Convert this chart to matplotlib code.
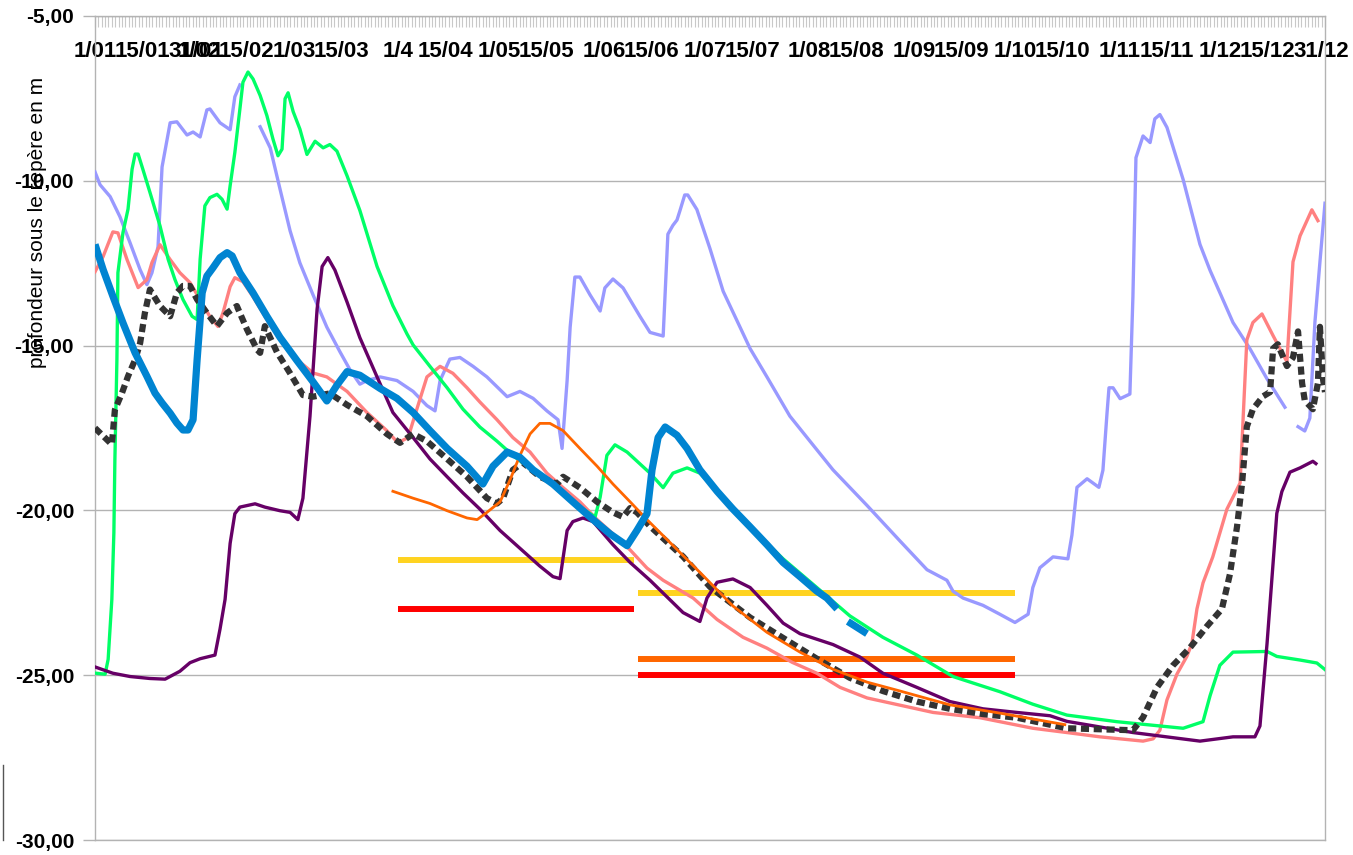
import numpy as np
import matplotlib
matplotlib.use("Agg")
import matplotlib.pyplot as plt
from matplotlib.lines import Line2D
from matplotlib.ticker import FuncFormatter

plt.rcParams['font.family'] = ['Liberation Sans', 'DejaVu Sans']

nan = np.nan

# x axis: day of year, labels placed on their date
tick_days = [1, 15, 31, 32, 46, 60, 74, 91, 105, 121, 135, 152, 166, 182, 196,
             213, 227, 244, 258, 274, 288, 305, 319, 335, 349, 365]
tick_labels = ["1/01", "15/01", "31/01", "1/02", "15/02", "1/03", "15/03", "1/4",
               "15/04", "1/05", "15/05", "1/06", "15/06", "1/07", "15/07", "1/08",
               "15/08", "1/09", "15/09", "1/10", "15/10", "1/11", "15/11", "1/12",
               "15/12", "31/12"]

# (day, depth in m), nan = gap
lavender = [(1, -9.73), (2.5, -10.12), (5.5, -10.48), (8.4, -11.09), (11.4, -11.88),
            (14.4, -12.70), (16.4, -13.15), (17.9, -12.79), (19.7, -12.0), (20.9, -9.58),
            (23.3, -8.24), (25.3, -8.21), (28.3, -8.61), (30.1, -8.52), (32.2, -8.67),
            (34.2, -7.85), (35.1, -7.82), (38.1, -8.24), (41.1, -8.45), (42.5, -7.45),
            (44, -7.09), (nan, nan),
            (50, -8.36), (53, -9.0), (55.9, -10.25), (58.9, -11.52), (61.8, -12.49),
            (65.7, -13.46), (69.8, -14.44), (73.7, -15.19), (76.7, -15.74), (79.6, -16.17),
            (81.7, -16.06), (85.6, -15.95), (90.6, -16.06), (95.4, -16.39), (99.5, -16.82),
            (101.9, -16.98), (103.4, -16.06), (106.3, -15.41), (109.3, -15.36),
            (113.2, -15.63), (117.3, -15.95), (123.3, -16.55), (127.1, -16.39),
            (131, -16.6), (135.1, -16.98), (138.4, -17.25), (139.6, -18.12),
            (141.1, -16.06), (142, -14.44), (143.4, -12.92), (144.9, -12.92),
            (147.9, -13.46), (150.9, -13.95), (152.3, -13.25), (154.7, -12.98),
            (157.7, -13.25), (162.7, -14.11), (165.7, -14.6), (169.6, -14.71),
            (171, -11.62), (172.5, -11.35), (173.7, -11.19), (174.6, -10.9), (176, -10.43),
            (176.9, -10.43), (179.6, -10.87), (183.5, -12.06), (187.4, -13.35),
            (195.4, -15.09), (200.4, -15.95), (207.2, -17.14), (212.3, -17.79),
            (220, -18.77), (230.1, -19.85), (239.9, -20.93), (247.9, -21.8),
            (253.8, -22.12), (255.6, -22.45), (258.6, -22.66), (264.5, -22.88),
            (269.5, -23.15), (274, -23.4), (277.9, -23.15), (279.3, -22.34),
            (281.4, -21.74), (285.3, -21.41), (289.7, -21.47), (290.9, -20.75),
            (292.4, -19.3), (295.4, -19.04), (298.9, -19.3), (300.1, -18.78),
            (301.3, -17.07), (301.9, -16.28), (303.1, -16.28), (305.2, -16.61),
            (308.1, -16.47), (309, -13.51), (309.9, -9.3), (312, -8.64), (314.1, -8.84),
            (315.5, -8.12), (317, -7.99), (319.1, -8.38), (323.9, -9.96), (328.9, -11.93),
            (331.9, -12.72), (338.7, -14.3), (343.7, -15.09), (348.8, -16.01),
            (354.1, -16.87), (nan, nan),
            (358, -17.46), (360, -17.59), (361.5, -17.2), (363, -14.3), (364.5, -12.46),
            (366, -10.68)]

salmon = [(1, -12.76), (3.4, -12.3), (6.3, -11.55), (7.8, -11.58), (10.5, -12.39),
          (13.8, -13.24), (16.4, -13.0), (17.9, -12.48), (20.3, -11.94), (23.3, -12.39),
          (26.2, -12.79), (29.2, -13.09), (32.2, -13.61), (35.1, -14.12), (37.5, -14.42),
          (39, -14.0), (41.1, -13.21), (42.5, -12.94), (44.9, -13.06), (47.9, -13.52),
          (52, -14.21), (55.9, -14.82), (60.9, -15.42), (65.7, -15.83), (69.8, -15.95),
          (75.8, -16.39), (81.7, -17.03), (87.6, -17.58), (90.9, -17.95), (93.9, -17.79),
          (96.5, -16.93), (99.5, -15.95), (103.4, -15.63), (107.2, -15.84),
          (111.4, -16.28), (115.2, -16.71), (120.3, -17.25), (125, -17.79),
          (130.1, -18.23), (135.1, -18.87), (139.9, -19.31), (144.9, -19.74),
          (150, -20.28), (154.7, -20.71), (159.8, -21.2), (164.8, -21.75),
          (169.6, -22.12), (178.5, -22.66), (185.6, -23.31), (193.3, -23.85),
          (200.4, -24.18), (207.9, -24.61), (215.2, -24.94), (222.1, -25.37),
          (230.1, -25.69), (239.9, -25.91), (249.7, -26.13), (263.6, -26.29),
          (269.5, -26.41), (279.3, -26.61), (289.4, -26.74), (299.2, -26.87),
          (312, -27.0), (315, -26.93), (317, -26.67), (319.1, -25.75), (322.1, -24.96),
          (325, -24.43), (326.5, -24.04), (328, -22.99), (329.8, -22.2), (332.7, -21.41),
          (336.9, -19.96), (340.8, -19.17), (342.8, -14.83), (344.6, -14.3),
          (347.3, -14.04), (350.6, -14.7), (354.7, -15.49), (356.5, -12.46),
          (358.6, -11.67), (362.1, -10.88), (363.9, -11.21)]

green = [(1.3, -24.94), (4, -24.97), (4.9, -24.52), (6, -22.7), (6.6, -20.68),
         (6.9, -18.47), (7.5, -15.43), (7.8, -12.79), (9.3, -11.57), (10.8, -10.86),
         (12, -9.65), (12.9, -9.19), (13.8, -9.19), (15.2, -9.65), (17.3, -10.35),
         (20.3, -11.37), (22.7, -12.38), (24.7, -12.99), (27.1, -13.6), (29.8, -14.11),
         (31.3, -14.21), (32.2, -12.38), (33.6, -10.76), (35.1, -10.51), (37.2, -10.41),
         (38.7, -10.56), (40.2, -10.86), (41.1, -10.15), (42.5, -9.14), (44, -7.82),
         (44.9, -7.01), (46.4, -6.7), (47.9, -6.91), (50, -7.41), (52, -8.02),
         (53.8, -8.73), (55.3, -9.24), (56.5, -9.04), (57.4, -7.51), (58.3, -7.33),
         (59.8, -7.9), (61.8, -8.43), (63.9, -9.2), (66.3, -8.8), (68.7, -9.0),
         (70.7, -8.9), (72.8, -9.1), (75.8, -9.85), (79.6, -10.9), (84.7, -12.6),
         (89.4, -13.79), (93.6, -14.65), (95.4, -14.98), (100.4, -15.63),
         (105.5, -16.28), (110.2, -16.93), (115.2, -17.47), (120.3, -17.9),
         (125, -18.33), (129.2, -18.66), (135.1, -19.1), (142, -19.7), (149.4, -20.2),
         (150.9, -19.6), (152.9, -18.33), (155.3, -18.01), (158.9, -18.23),
         (165.7, -18.87), (169.6, -19.31), (172.5, -18.87), (176.7, -18.71),
         (180.5, -18.87), (185.6, -19.42), (195.4, -20.5), (205.2, -21.47),
         (215.2, -22.34), (225, -23.2), (234.8, -23.85), (244.9, -24.39),
         (255.6, -25.04), (269.5, -25.5), (279.3, -25.88), (289.4, -26.21),
         (304.2, -26.41), (323.9, -26.61), (329.8, -26.41), (331.9, -25.62),
         (334.8, -24.7), (338.7, -24.3), (348.8, -24.28), (351.7, -24.43),
         (358.6, -24.54), (363.6, -24.63), (366, -24.83)]

purple = [(1.3, -24.76), (6.3, -24.94), (11.4, -25.04), (17.3, -25.1), (21.8, -25.12),
          (26.2, -24.88), (29.2, -24.62), (32.2, -24.5), (36.6, -24.39), (38.1, -23.6),
          (39.6, -22.7), (41.1, -21.0), (42.5, -20.1), (44, -19.9), (48.5, -19.8),
          (51.4, -19.9), (55.9, -20.01), (58.9, -20.06), (61.2, -20.28), (62.7, -19.63),
          (64.8, -17.14), (66.9, -13.9), (68.4, -12.6), (70.1, -12.33), (72.2, -12.71),
          (75.8, -13.68), (79.6, -14.76), (84.7, -15.95), (89.4, -17.03), (95.4, -17.79),
          (100.4, -18.44), (105.5, -18.98), (110.2, -19.47), (115.2, -19.96),
          (121.2, -20.61), (127.1, -21.15), (133, -21.69), (136.9, -22.01),
          (139, -22.07), (141.1, -20.61), (142.8, -20.34), (145.8, -20.23),
          (148.8, -20.34), (154.7, -21.04), (159.8, -21.58), (165.7, -22.12),
          (175.5, -23.1), (180.5, -23.37), (182.6, -22.66), (185.6, -22.18),
          (190.3, -22.08), (195.4, -22.34), (200.4, -22.88), (205.2, -23.42),
          (210.2, -23.74), (220, -24.07), (228, -24.45), (234.8, -24.94),
          (244.9, -25.37), (254.7, -25.8), (264.5, -26.02), (274.6, -26.13),
          (284.4, -26.23), (289.4, -26.4), (309, -26.74), (328.9, -27.0),
          (338.7, -26.87), (345.2, -26.87), (346.7, -26.54), (348.8, -24.04),
          (351.7, -20.09), (353.2, -19.43), (355.6, -18.84), (358.6, -18.71),
          (362.4, -18.51), (363.3, -18.58)]

blue = [(1, -11.93), (3.4, -12.69), (6.3, -13.5), (9.3, -14.31), (12.9, -15.22),
        (16.4, -15.93), (18.8, -16.44), (20.9, -16.74), (23.3, -17.05), (25.3, -17.35),
        (27.1, -17.56), (28.6, -17.56), (30.1, -17.25), (31.3, -15.43), (32.8, -13.4),
        (34.2, -12.89), (36, -12.64), (38.1, -12.33), (40.2, -12.18), (41.7, -12.28),
        (44, -12.79), (47.9, -13.4), (52, -14.11), (55.9, -14.75), (60.9, -15.45),
        (65.7, -16.1), (69.8, -16.68), (72.8, -16.2), (75.8, -15.79), (79.6, -15.9),
        (85.6, -16.3), (90.6, -16.6), (95.4, -17.03), (100.4, -17.58), (105.5, -18.12),
        (111.4, -18.66), (116.1, -19.2), (119.1, -18.66), (123.3, -18.23),
        (127.1, -18.39), (131, -18.77), (136.9, -19.2), (142.8, -19.74),
        (148.8, -20.28), (153.8, -20.71), (158.9, -21.07), (161.8, -20.61),
        (164.8, -20.1), (166.3, -18.77), (168.1, -17.79), (170.2, -17.47),
        (173.7, -17.72), (176.7, -18.12), (180.5, -18.77), (185.6, -19.42),
        (190.3, -19.96), (195.4, -20.5), (200.4, -21.04), (205.2, -21.58),
        (210.2, -22.01), (215.2, -22.45), (218.2, -22.66), (221.2, -22.99), (nan, nan),
        (224.4, -23.37), (230.1, -23.74)]

black = [(1, -17.5), (6, -18.0), (6.9, -16.95), (9, -16.44), (10.8, -15.93),
         (12.9, -15.43), (14.4, -14.92), (15.8, -14.01), (17.3, -13.3), (20.3, -13.8),
         (23.3, -14.11), (25.3, -13.4), (27.1, -13.19), (29.2, -13.19), (31.3, -13.6),
         (34.2, -14.01), (37.2, -14.41), (40.2, -14.01), (43.1, -13.8), (46.1, -14.51),
         (49.1, -15.12), (50, -15.22), (51.4, -14.41), (55, -15.2), (58.9, -15.84),
         (62.7, -16.5), (65.7, -16.55), (70.7, -16.45), (75.8, -16.8), (81.7, -17.14),
         (87.6, -17.68), (91.5, -17.95), (95.4, -17.68), (99.5, -17.9), (105.5, -18.44),
         (111.4, -18.98), (117.3, -19.63), (120.3, -19.79), (122.1, -19.63),
         (125, -18.77), (128, -18.55), (133, -18.98), (138.1, -19.2), (139.9, -18.98),
         (144.9, -19.31), (150, -19.74), (154.7, -20.06), (157.7, -20.2),
         (159.8, -19.93), (161.8, -20.06), (165.7, -20.48), (170.7, -20.95),
         (175.5, -21.4), (183.5, -22.32), (195.4, -23.25), (205.2, -23.87),
         (215.2, -24.5), (225, -25.08), (234.8, -25.48), (244.9, -25.8),
         (254.7, -26.02), (264.5, -26.18), (274.6, -26.29), (289.4, -26.61),
         (309, -26.67), (312, -26.28), (316.2, -25.36), (320.9, -24.7), (325.9, -24.17),
         (331, -23.51), (335.4, -22.99), (337.8, -21.93), (339.9, -20.49),
         (341.4, -19.17), (342.8, -17.46), (344.6, -16.93), (347.6, -16.54),
         (349.7, -16.41), (350.6, -15.09), (352, -14.96), (354.7, -15.62),
         (356.5, -15.36), (358, -14.57), (359.2, -16.14), (360, -16.67),
         (362.4, -16.93), (363.9, -16.14), (364.5, -14.43), (365.4, -16.01),
         (366, -16.41)]

orange = [(89.4, -19.42), (95.4, -19.63), (100.4, -19.79), (105.5, -20.01),
          (111.4, -20.23), (114.4, -20.28), (117.3, -20.06), (121.2, -19.74),
          (124.1, -19.09), (127.1, -18.33), (130.1, -17.68), (133, -17.36), (136, -17.36),
          (139.9, -17.58), (144.9, -18.12), (150, -18.66), (154.7, -19.2),
          (159.8, -19.74), (164.8, -20.28), (170.7, -20.88), (180.5, -21.88),
          (190.3, -22.9), (200.4, -23.7), (210.2, -24.3), (220, -24.82), (230.1, -25.21),
          (239.9, -25.48), (254.7, -25.9), (269.5, -26.15), (288.8, -26.5)]

# threshold levels: start day, end day, depth
threshold_start = [91, 91, 162, 162, 162]
threshold_end = [161, 161, 274, 274, 274]
threshold_depth = [-21.5, -23.0, -22.5, -24.5, -25.0]
threshold_colors = ['#ffd320', '#ff0000', '#ffd320', '#ff6600', '#ff0000']


def xy(points):
    a = np.array(points, dtype=float)
    return a[:, 0], a[:, 1]


fig = plt.figure(figsize=(13.53, 8.55), dpi=100)
ax = fig.add_axes([95 / 1353, 1 - 840 / 855, 1230 / 1353, 824 / 855])

# horizontal thresholds below the curves
for x0, x1, d, c in zip(threshold_start, threshold_end, threshold_depth, threshold_colors):
    ax.plot([x0, x1], [d, d], color=c, lw=4.3, solid_capstyle='butt', zorder=2)

ax.plot(*xy(lavender), color='#9999ff', lw=2.4, zorder=3)
ax.plot(*xy(salmon), color='#ff8080', lw=2.4, zorder=3)
ax.plot(*xy(green), color='#00ff66', lw=2.4, zorder=3)
ax.plot(*xy(purple), color='#660066', lw=2.4, zorder=4)
ax.plot(*xy(black), color='#333333', lw=4.5, dashes=(1.3, 0.75),
        dash_capstyle='butt', zorder=5)
ax.plot(*xy(orange), color='#ff6600', lw=2.0, zorder=6)
ax.plot(*xy(blue), color='#0084d1', lw=5.2, solid_capstyle='butt', zorder=7)

ax.set_xlim(1, 366)
ax.set_ylim(-30, -5)

# y axis
ax.set_yticks(np.arange(-30, -4, 5))
ax.yaxis.set_major_formatter(FuncFormatter(lambda v, p: f"{v:.2f}".replace('.', ',')))
ax.yaxis.grid(True, color='#b3b3b3', lw=1)
ax.set_axisbelow(True)
ax.tick_params(axis='y', direction='out', length=8.6, width=1, color='#b3b3b3',
               pad=6.5, labelsize=15)

# x axis on top, labels inside the plot
ax.xaxis.set_ticks_position('top')
ax.set_xticks(tick_days)
ax.set_xticklabels(tick_labels)
ax.set_xticks(np.arange(1, 367), minor=True)
ax.tick_params(axis='x', which='both', direction='in', length=8, width=0.8,
               color='#c8c8c8', top=True, bottom=False, labeltop=True,
               labelbottom=False, pad=-33, labelsize=16)

for lab in ax.get_xticklabels() + ax.get_yticklabels():
    lab.set_fontweight('bold')

for s in ax.spines.values():
    s.set_color('#b3b3b3')
    s.set_linewidth(1)

fig.text(38 / 1353, 1 - 222 / 855, 'profondeur sous le repère en m', rotation=90,
         ha='center', va='center', fontsize=15)

# small stray line at the lower left of the original picture
fig.add_artist(Line2D([3 / 1353, 3 / 1353], [1 - 765 / 855, 1 - 840 / 855],
                      color='#555555', lw=1))

fig.savefig('out.png', dpi=100)
